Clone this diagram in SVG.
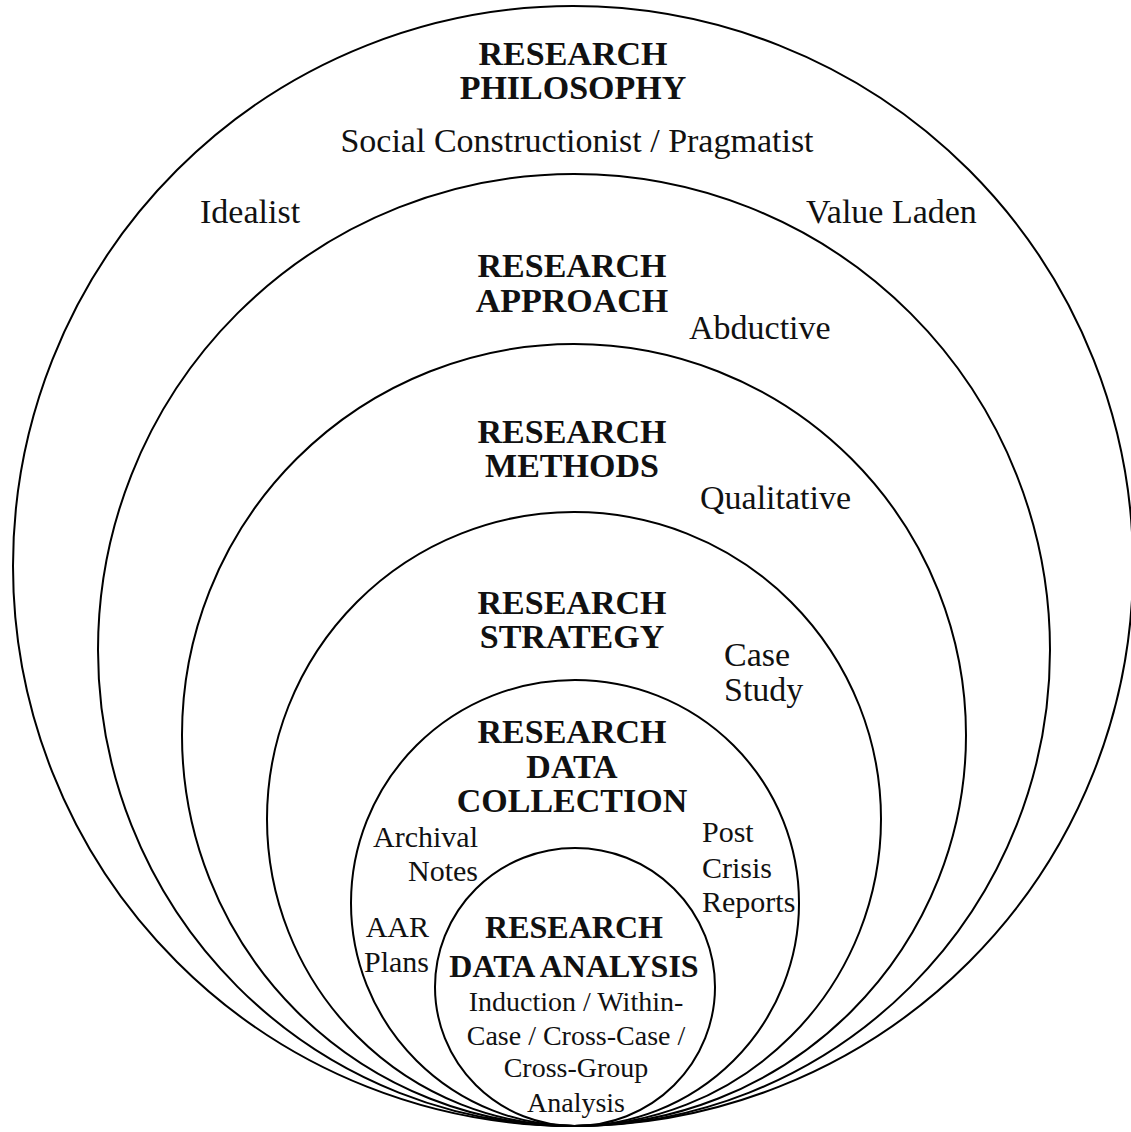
<svg xmlns="http://www.w3.org/2000/svg" width="1131" height="1132" viewBox="0 0 1131 1132">
  <style>
    .ring { fill: none; stroke: #000; stroke-width: 2; }
    .head { font-family: "Liberation Serif", "Times New Roman", serif; font-weight: bold; font-size: 34px; fill: #111; text-anchor: middle; }
    .head-s { font-size: 32px; }
    .lbl { font-family: "Liberation Serif", "Times New Roman", serif; font-size: 34px; fill: #111; }
    .lbl-s { font-size: 30px; }
    .lbl-xs { font-size: 28px; }
    .mid { text-anchor: middle; }
    .end { text-anchor: end; }
  </style>
  <rect width="1131" height="1132" fill="#fff"/>

  <!-- Research philosophy (outermost ring) -->
  <g id="philosophy">
    <ellipse class="ring" cx="573" cy="566" rx="560" ry="560"/>
    <text class="head" x="573" y="65">RESEARCH</text>
    <text class="head" x="573" y="99">PHILOSOPHY</text>
    <text class="lbl mid" x="577" y="152">Social Constructionist / Pragmatist</text>
    <text class="lbl" x="200" y="223">Idealist</text>
    <text class="lbl" x="806" y="223">Value Laden</text>
  </g>

  <!-- Research approach -->
  <g id="approach">
    <ellipse class="ring" cx="574" cy="650" rx="476" ry="476"/>
    <text class="head" x="572" y="277">RESEARCH</text>
    <text class="head" x="572" y="312">APPROACH</text>
    <text class="lbl" x="689" y="339">Abductive</text>
  </g>

  <!-- Research methods -->
  <g id="methods">
    <ellipse class="ring" cx="574" cy="735" rx="392" ry="391"/>
    <text class="head" x="572" y="443">RESEARCH</text>
    <text class="head" x="572" y="477">METHODS</text>
    <text class="lbl" x="700" y="509">Qualitative</text>
  </g>

  <!-- Research strategy -->
  <g id="strategy">
    <ellipse class="ring" cx="574" cy="819" rx="307" ry="307"/>
    <text class="head" x="572" y="614">RESEARCH</text>
    <text class="head" x="572" y="648">STRATEGY</text>
    <text class="lbl" x="724" y="666">Case</text>
    <text class="lbl" x="724" y="701">Study</text>
  </g>

  <!-- Research data collection -->
  <g id="data-collection">
    <ellipse class="ring" cx="575" cy="903" rx="224" ry="223"/>
    <text class="head" x="572" y="743">RESEARCH</text>
    <text class="head" x="572" y="778">DATA</text>
    <text class="head" x="572" y="812">COLLECTION</text>
    <text class="lbl lbl-s end" x="478" y="847">Archival</text>
    <text class="lbl lbl-s end" x="478" y="881">Notes</text>
    <text class="lbl lbl-s end" x="429" y="937">AAR</text>
    <text class="lbl lbl-s end" x="429" y="972">Plans</text>
    <text class="lbl lbl-s" x="702" y="842">Post</text>
    <text class="lbl lbl-s" x="702" y="878">Crisis</text>
    <text class="lbl lbl-s" x="702" y="912">Reports</text>
  </g>

  <!-- Research data analysis (innermost ring) -->
  <g id="data-analysis">
    <ellipse class="ring" cx="575" cy="987" rx="140" ry="139"/>
    <text class="head head-s" x="574" y="938">RESEARCH</text>
    <text class="head head-s" x="574" y="977">DATA ANALYSIS</text>
    <text class="lbl lbl-xs mid" x="576" y="1011">Induction / Within-</text>
    <text class="lbl lbl-xs mid" x="576" y="1045">Case / Cross-Case /</text>
    <text class="lbl lbl-xs mid" x="576" y="1077">Cross-Group</text>
    <text class="lbl lbl-xs mid" x="576" y="1112">Analysis</text>
  </g>
</svg>
